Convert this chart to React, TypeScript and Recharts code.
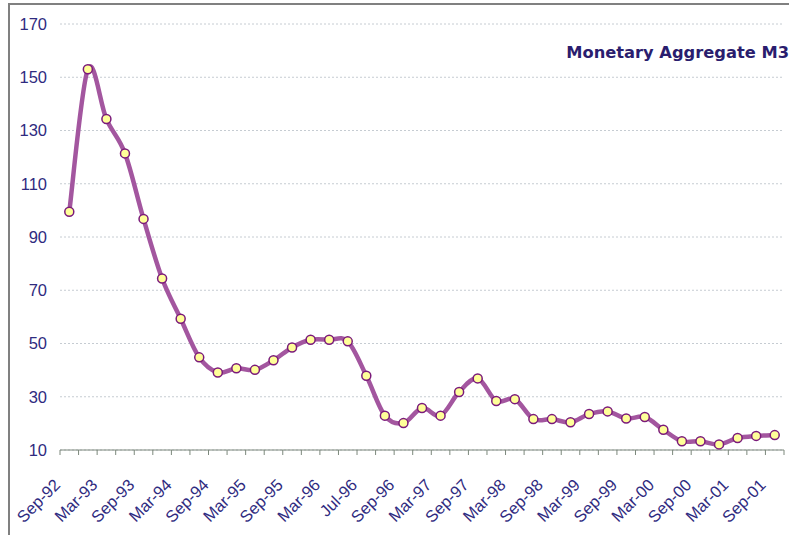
import React from 'react';
import { LineChart, Line, XAxis, YAxis, CartesianGrid } from 'recharts';

const categories = [
  'Sep-92', 'Dec-92', 'Mar-93', 'Jun-93', 'Sep-93', 'Dec-93', 'Mar-94', 'Jun-94',
  'Sep-94', 'Dec-94', 'Mar-95', 'Jun-95', 'Sep-95', 'Dec-95', 'Mar-96', 'May-96',
  'Jul-96', 'Aug-96', 'Sep-96', 'Dec-96', 'Mar-97', 'Jun-97', 'Sep-97', 'Dec-97',
  'Mar-98', 'Jun-98', 'Sep-98', 'Dec-98', 'Mar-99', 'Jun-99', 'Sep-99', 'Dec-99',
  'Mar-00', 'Jun-00', 'Sep-00', 'Dec-00', 'Mar-01', 'Jun-01', 'Sep-01',
];

const m3 = [
  99.5, 153, 134.3, 121.4, 96.8, 74.4, 59.3, 44.8,
  39.1, 40.7, 40.1, 43.7, 48.5, 51.4, 51.4, 50.8,
  37.9, 22.9, 20.1, 25.8, 22.9, 31.8, 36.9, 28.4,
  29.1, 21.6, 21.6, 20.4, 23.5, 24.5, 21.8, 22.4,
  17.6, 13.3, 13.3, 12.1, 14.5, 15.3, 15.6,
];

const yTicks = [10, 30, 50, 70, 90, 110, 130, 150, 170];

const TEXT = '#2f2b80';
const FONT = "'Liberation Sans', Arial, sans-serif";

const data = categories.map((name, i) => ({ i, name, m3: m3[i] }));
// every other category gets a label, tick marks sit between categories
const labelTicks = data.filter((d) => d.i % 2 === 0).map((d) => d.i);
const markTicks = data.map((d) => d.i - 0.5).concat(data.length - 0.5);

// excel-style smoothed line (cardinal, tension 0)
const excelCurve = (context: any) => {
  let pts: number[][] = [];
  return {
    areaStart() {},
    areaEnd() {},
    lineStart() {
      pts = [];
    },
    point(x: number, y: number) {
      pts.push([+x, +y]);
    },
    lineEnd() {
      const n = pts.length;
      if (!n) return;
      context.moveTo(pts[0][0], pts[0][1]);
      for (let k = 0; k < n - 1; k++) {
        const p0 = pts[Math.max(k - 1, 0)];
        const p1 = pts[k];
        const p2 = pts[k + 1];
        const p3 = pts[Math.min(k + 2, n - 1)];
        context.bezierCurveTo(
          p1[0] + (p2[0] - p0[0]) / 6,
          p1[1] + (p2[1] - p0[1]) / 6,
          p2[0] - (p3[0] - p1[0]) / 6,
          p2[1] - (p3[1] - p1[1]) / 6,
          p2[0],
          p2[1]
        );
      }
    },
  };
};

const CatTick = ({ x, y, payload }: any) => {
  const bx = x - 8;
  const by = y + 26;
  return (
    <text
      x={bx}
      y={by}
      transform={`rotate(-45 ${bx} ${by})`}
      textAnchor="end"
      fill={TEXT}
      fontSize={16.5}
      fontFamily={FONT}
    >
      {categories[payload.value]}
    </text>
  );
};

const App: React.FC = () => {
  return (
    <div
      style={{
        position: 'absolute',
        left: 0,
        top: 0,
        width: 789,
        height: 535,
        background: '#fff',
        overflow: 'hidden',
        fontFamily: FONT,
      }}
    >
      <div
        style={{
          position: 'absolute',
          left: 8,
          top: 3,
          width: 800,
          height: 600,
          borderLeft: '2px solid #808080',
          borderTop: '2px solid #808080',
        }}
      />
      <div
        style={{
          position: 'absolute',
          right: 0,
          top: 43,
          lineHeight: '20px',
          fontFamily: "'DejaVu Sans', Verdana, sans-serif",
          fontWeight: 'bold',
          fontSize: 16.3,
          color: '#2a1d6e',
          whiteSpace: 'nowrap',
        }}
      >
        Monetary Aggregate M3
      </div>
      <LineChart
        width={789}
        height={535}
        data={data}
        margin={{ top: 24, right: 5, left: 0, bottom: 15 }}
        style={{ position: 'absolute', left: 0, top: 0 }}
      >
        <CartesianGrid
          horizontal={true}
          vertical={false}
          stroke="#c6ccd2"
          strokeDasharray="2 2"
        />
        <XAxis
          xAxisId="a_marks"
          type="number"
          dataKey="i"
          domain={[-0.5, data.length - 0.5]}
          ticks={markTicks}
          interval={0}
          height={10}
          axisLine={{ stroke: '#7c887c' }}
          tickLine={{ stroke: '#7c887c' }}
          tickSize={5}
          tick={() => <g />}
        />
        <XAxis
          xAxisId="b_labels"
          type="number"
          dataKey="i"
          domain={[-0.5, data.length - 0.5]}
          ticks={labelTicks}
          interval={0}
          height={60}
          axisLine={false}
          tickLine={false}
          tickSize={0}
          tickMargin={0}
          tick={<CatTick />}
        />
        <YAxis
          type="number"
          domain={[10, 170]}
          ticks={yTicks}
          interval={0}
          width={60}
          axisLine={false}
          tickLine={false}
          tickMargin={7}
          tick={{ fill: TEXT, fontSize: 16.5, fontFamily: FONT }}
        />
        <Line
          xAxisId="b_labels"
          dataKey="m3"
          type={excelCurve as any}
          stroke="#a3569f"
          strokeWidth={4.5}
          dot={{ r: 4.5, fill: '#ffff99', stroke: '#7a1a7a', strokeWidth: 1.5 }}
          activeDot={false}
          isAnimationActive={false}
        />
      </LineChart>
    </div>
  );
};

export default App;
